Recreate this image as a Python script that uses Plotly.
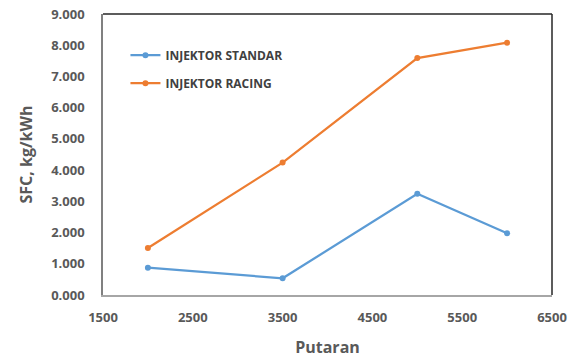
import plotly.graph_objects as go

putaran = [2000, 3500, 5000, 6000]
sfc_standar = [0.875, 0.535, 3.24, 1.98]
sfc_racing = [1.506, 4.24, 7.59, 8.08]
series_names = ["INJEKTOR STANDAR", "INJEKTOR RACING"]
x_ticks = [1500, 2500, 3500, 4500, 5500, 6500]
y_ticks = [0, 1, 2, 3, 4, 5, 6, 7, 8, 9]

blue = "#5B9BD5"
orange = "#ED7D31"
font_family = "Open Sans, Liberation Sans, Arial"

fig = go.Figure()
fig.add_trace(go.Scatter(x=putaran, y=sfc_standar, mode="lines+markers", name="<b>" + series_names[0] + "</b>",
                         legendgroup="a",
                         line=dict(color=blue, width=2.25), marker=dict(size=6, color=blue)))
fig.add_trace(go.Scatter(x=putaran, y=sfc_racing, mode="lines+markers", name="<b>" + series_names[1] + "</b>",
                         legendgroup="b",
                         line=dict(color=orange, width=2.25), marker=dict(size=6, color=orange)))

fig.update_layout(
    width=576, height=358,
    margin=dict(l=103, r=24, t=14, b=63),
    paper_bgcolor="white", plot_bgcolor="white",
    font=dict(family=font_family, color="#595959"),
    showlegend=True,
    legend=dict(x=0.05, y=0.905, xanchor="left", yanchor="top", bgcolor="rgba(0,0,0,0)",
                font=dict(size=12, color="#404040", family=font_family),
                tracegroupgap=9, itemwidth=30),
    xaxis=dict(range=[1500, 6500], tickvals=x_ticks, ticktext=[f"<b>{v}</b>" for v in x_ticks],
               showgrid=False, zeroline=False, showline=True, linecolor="#A6A6A6", linewidth=1.5,
               ticks="", automargin=False, ticklabelstandoff=10,
               tickfont=dict(size=13, color="#595959", family=font_family),
               title=dict(text="<b>Putaran</b>", font=dict(size=16, color="#595959"), standoff=18)),
    yaxis=dict(range=[0, 9], tickvals=y_ticks, ticktext=[f"<b>{v:.3f}</b>" for v in y_ticks],
               showgrid=False, zeroline=False, showline=True, linecolor="#808080", linewidth=1.5,
               ticks="", automargin=False, ticklabelstandoff=14,
               tickfont=dict(size=13, color="#595959", family=font_family),
               title=dict(text="<b>SFC, kg/kWh</b>", font=dict(size=16, color="#595959"), standoff=15)),
)

# dark top and right border of the plot area
fig.add_shape(type="line", xref="paper", yref="paper", x0=0, x1=1, y0=1, y1=1,
              line=dict(color="#262626", width=1.5))
fig.add_shape(type="line", xref="paper", yref="paper", x0=1, x1=1, y0=0, y1=1,
              line=dict(color="#262626", width=1.5))

fig.write_html("out.html", config={"displayModeBar": False},
               post_script="document.body.style.margin='0';")
